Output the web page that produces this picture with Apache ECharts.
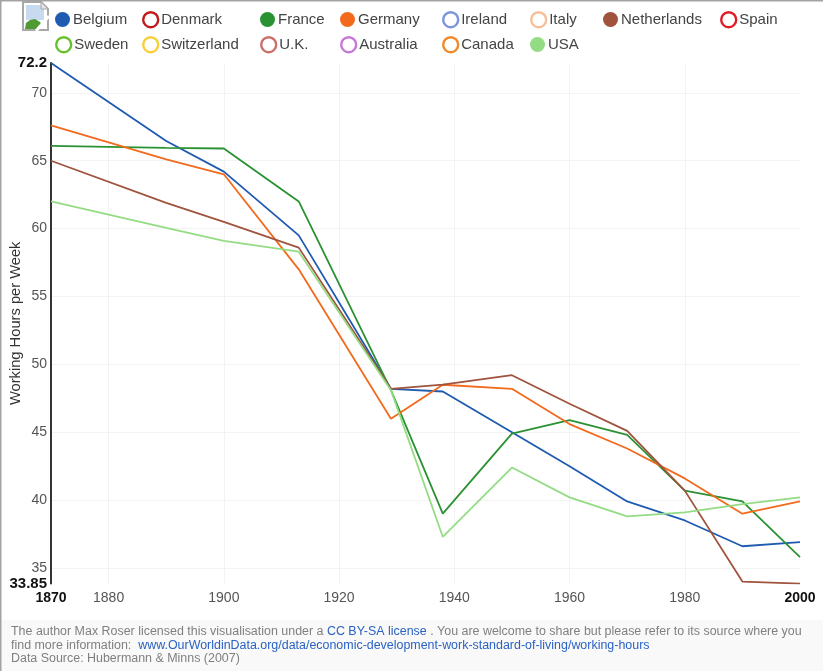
<!DOCTYPE html>
<html><head><meta charset="utf-8">
<style>html,body{margin:0;padding:0;background:#fff}#c{width:823px;height:671px}</style>
<script src="https://cdn.jsdelivr.net/npm/echarts@6/dist/echarts.min.js"></script>
</head><body><div id="c"></div>
<script>
const years = [1870,1890,1900,1913,1929,1938,1950,1960,1970,1980,1990,2000];
const belgium = [72.2,66.45,64.2,59.5,48.2,48.0,45.0,42.5,39.9,38.5,36.6,36.9];
const france = [66.1,65.95,65.9,62.0,48.1,39.0,44.9,45.9,44.8,40.7,39.9,35.8];
const germany = [67.6,65.1,64.0,57.0,46.0,48.5,48.2,45.6,43.8,41.6,39.0,39.9];
const netherlands = [65.0,61.9,60.5,58.6,48.2,48.5,49.2,47.1,45.1,40.7,34.0,33.85];
const usa = [62.0,60.05,59.1,58.3,48.1,37.3,42.4,40.2,38.8,39.1,39.7,40.2];
const yTicks = [33.85,35,40,45,50,55,60,65,70,72.2];
const xTicks = [1870,1880,1900,1920,1940,1960,1980,2000];
const entries = [
 ['Belgium','#1f5bb0',1,belgium,55,12],['Denmark','#c01a1a',0,null,142,11],['France','#2a9232',1,france,260,12],
 ['Germany','#f26b1d',1,germany,340,12],['Ireland','#7b96d8',0,null,442,11],['Italy','#f5bf9a',0,null,530,11],
 ['Netherlands','#a0533d',1,netherlands,603,12],['Spain','#e01c24',0,null,720,11],
 ['Sweden','#66c22a',0,null,55,36],['Switzerland','#f8cf3a',0,null,142,36],['U.K.','#cc6f6a',0,null,260,36],
 ['Australia','#c878d8',0,null,340,36],['Canada','#f08a28',0,null,442,36],['USA','#94dc84',1,usa,530,37]
];
const font = '"Liberation Sans", Arial, sans-serif';
const xRich = {b:{fontWeight:'bold',color:'#111',fontSize:14,fontFamily:font},n:{color:'#555',fontSize:14,fontFamily:font}};
const yRich = {b:{fontWeight:'bold',color:'#111',fontSize:15,fontFamily:font},n:{color:'#555',fontSize:14,fontFamily:font}};
const fmt = (ends) => v => (ends.includes(+v) ? '{b|'+v+'}' : '{n|'+v+'}');
const legendFor = e => ({
  left:e[4], top:e[5], selectedMode:false, itemWidth:15, itemHeight:15, padding:0,
  data:[{name:e[0],icon:'circle',itemStyle:e[2]?{color:e[1],borderWidth:0}:{color:'#fff',borderColor:e[1],borderWidth:2.4}}],
  textStyle:{fontFamily:font,fontSize:15,color:'#444',padding:[0,0,0,-2]}
});
const chart = echarts.init(document.getElementById('c'),null,{renderer:'canvas'});
chart.setOption({
  animation:false, backgroundColor:'#fff',
  grid:{left:51,right:23,top:63,bottom:87.4,containLabel:false,outerBoundsMode:'none'},
  legend:entries.map(legendFor),
  xAxis:{type:'value',min:1870,max:2000,
    axisLine:{show:false},axisTick:{show:false,customValues:xTicks},
    axisLabel:{customValues:xTicks,formatter:fmt([1870,2000]),rich:xRich,margin:8,showMinLabel:true,showMaxLabel:true,hideOverlap:false},
    splitLine:{show:true,showMinLine:false,showMaxLine:false,lineStyle:{color:'#f3f3f3',width:1}}},
  yAxis:{type:'value',min:33.85,max:72.2,
    name:'Working Hours per Week',nameLocation:'middle',nameGap:28,nameRotate:90,nameMoveOverlap:false,
    nameTextStyle:{fontFamily:font,fontSize:14.7,color:'#333'},
    axisLine:{show:true,onZero:false,lineStyle:{color:'#333',width:2}},axisTick:{show:false,customValues:yTicks},
    axisLabel:{customValues:yTicks,formatter:fmt([33.85,72.2]),rich:yRich,margin:4,showMinLabel:true,showMaxLabel:true,hideOverlap:false},
    splitLine:{show:true,showMinLine:false,showMaxLine:false,lineStyle:{color:'#f3f3f3',width:1}}},
  series:entries.map(e=>({name:e[0],type:'line',showSymbol:false,symbol:'none',silent:true,
    lineStyle:{color:e[1],width:1.8},itemStyle:{color:e[1]},
    data:e[3]?years.map((y,i)=>[y,e[3][i]]):[]})),
  graphic:[
    {type:'rect',z:-10,shape:{x:0,y:620,width:823,height:51},style:{fill:'#f9f9f9'}},
    {type:'rect',z:50,shape:{x:0,y:0,width:823,height:1.5},style:{fill:'#a3a3a3'}},
    {type:'rect',z:50,shape:{x:0,y:0,width:1.5,height:671},style:{fill:'#a3a3a3'}},
    {type:'polygon',z:40,shape:{points:[[23,2],[41,2],[48,9],[48,30],[23,30]]},style:{fill:'#fff',stroke:'#a8a8a8',lineWidth:2}},
    {type:'rect',z:41,shape:{x:26,y:5,width:18,height:15},style:{fill:'#c8daf0'}},
    {type:'polygon',z:42,shape:{points:[[25,29],[26,23],[30,20],[35,19],[40,22],[42,25],[38,29]]},style:{fill:'#4f9a32'}},
    {type:'polygon',z:43,shape:{points:[[41,2],[41,9],[48,9]]},style:{fill:'#e4e4e4',stroke:'#a8a8a8',lineWidth:1}},
    {type:'line',z:44,shape:{x1:36,y1:31,x2:49,y2:16},style:{stroke:'#fff',lineWidth:3}},
    {type:'text',z:45,x:11,y:625,style:{fontFamily:font,fontSize:12.45,lineHeight:13.5,
      text:'{g|The author Max Roser licensed this visualisation under a }{l|CC BY-SA license}{g| . You are welcome to share but please refer to its source where you}\n{g|find more information:  }{l|www.OurWorldinData.org/data/economic-development-work-standard-of-living/working-hours}\n{g|Data Source: Hubermann & Minns (2007)}',
      rich:{g:{fill:'#808080',fontFamily:font,fontSize:12.45,lineHeight:13.5},l:{fill:'#2a62c4',fontFamily:font,fontSize:12.45,lineHeight:13.5}}}}
  ]
});
</script></body></html>
